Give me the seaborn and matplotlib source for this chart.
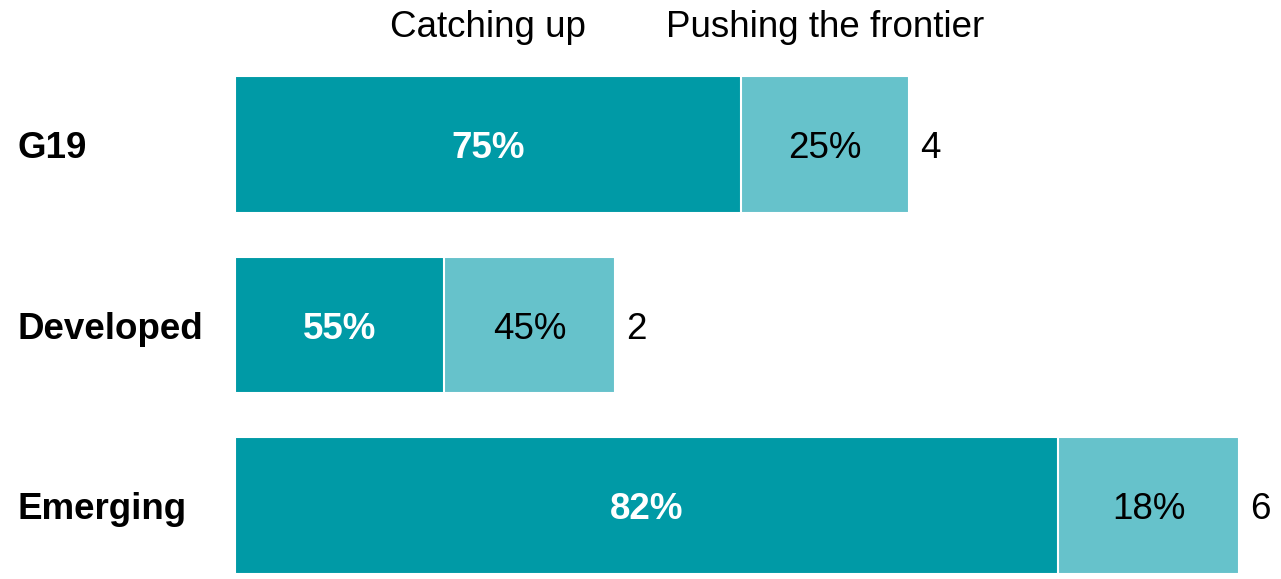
import matplotlib
matplotlib.use("Agg")
import matplotlib.pyplot as plt
import seaborn as sns
import pandas as pd

# Data
groups = ["G19", "Developed", "Emerging"]
totals = [4.03, 2.27, 6.0]          # total count per group (shown rounded at bar end)
catching_up_pct = [75, 55, 82]      # share "Catching up", %
series_names = ["Catching up", "Pushing the frontier"]

frontier_pct = [100 - p for p in catching_up_pct]
catching_vals = [t * p / 100 for t, p in zip(totals, catching_up_pct)]

df = pd.DataFrame({"group": groups, "total": totals, "catching": catching_vals})

DARK = "#009aa6"
LIGHT = "#66c2cb"
FONT = "Liberation Sans"
FS = 26.5
BAR_H = 0.757

sns.set_theme(style="white")
plt.rcParams["font.family"] = [FONT, "DejaVu Sans"]

W, H = 1281, 579
fig = plt.figure(figsize=(W / 100, H / 100), dpi=100)
ax = fig.add_axes([235 / W, 5 / H, (W - 235) / W, 498 / H])

# Full bar (light) and "catching up" part (dark) on top of it
sns.barplot(data=df, y="group", x="total", orient="h", color=LIGHT,
            width=BAR_H, edgecolor="white", linewidth=1.5, saturation=1, ax=ax)
sns.barplot(data=df, y="group", x="catching", orient="h", color=DARK,
            width=BAR_H, edgecolor="white", linewidth=1.5, saturation=1, ax=ax)

px_per_unit = 1004 / 6.0
ax.set_xlim(0, (W - 235) / px_per_unit)
ax.set_ylim(2 + BAR_H / 2, -BAR_H / 2)
ax.axis("off")

base_off = 0.075  # baseline offset below bar centre, in data units
for i, (g, tot, cv, cp, fp) in enumerate(zip(groups, totals, catching_vals,
                                              catching_up_pct, frontier_pct)):
    ax.text(cv / 2, i + base_off, f"{cp}%", ha="center", va="baseline",
            color="white", fontsize=FS, fontweight="bold")
    ax.text(cv + (tot - cv) / 2, i + base_off, f"{fp}%", ha="center",
            va="baseline", color="black", fontsize=FS)
    ax.text(tot + 11 / px_per_unit, i + base_off, f"{tot:.0f}", ha="left",
            va="baseline", color="black", fontsize=FS)
    ax.text((17 - 235) / px_per_unit, i + base_off, g, ha="left",
            va="baseline", color="black", fontsize=FS, fontweight="bold",
            clip_on=False)

# Column headers above the first bar
hy = -BAR_H / 2 - (76 - 37) / 180.6
ax.text(catching_vals[0] / 2, hy, series_names[0], ha="center", va="baseline",
        fontsize=FS, color="black", clip_on=False)
ax.text(catching_vals[0] + (totals[0] - catching_vals[0]) / 2, hy,
        series_names[1], ha="center", va="baseline", fontsize=FS,
        color="black", clip_on=False)

fig.savefig("out.png", dpi=100, facecolor="white")
